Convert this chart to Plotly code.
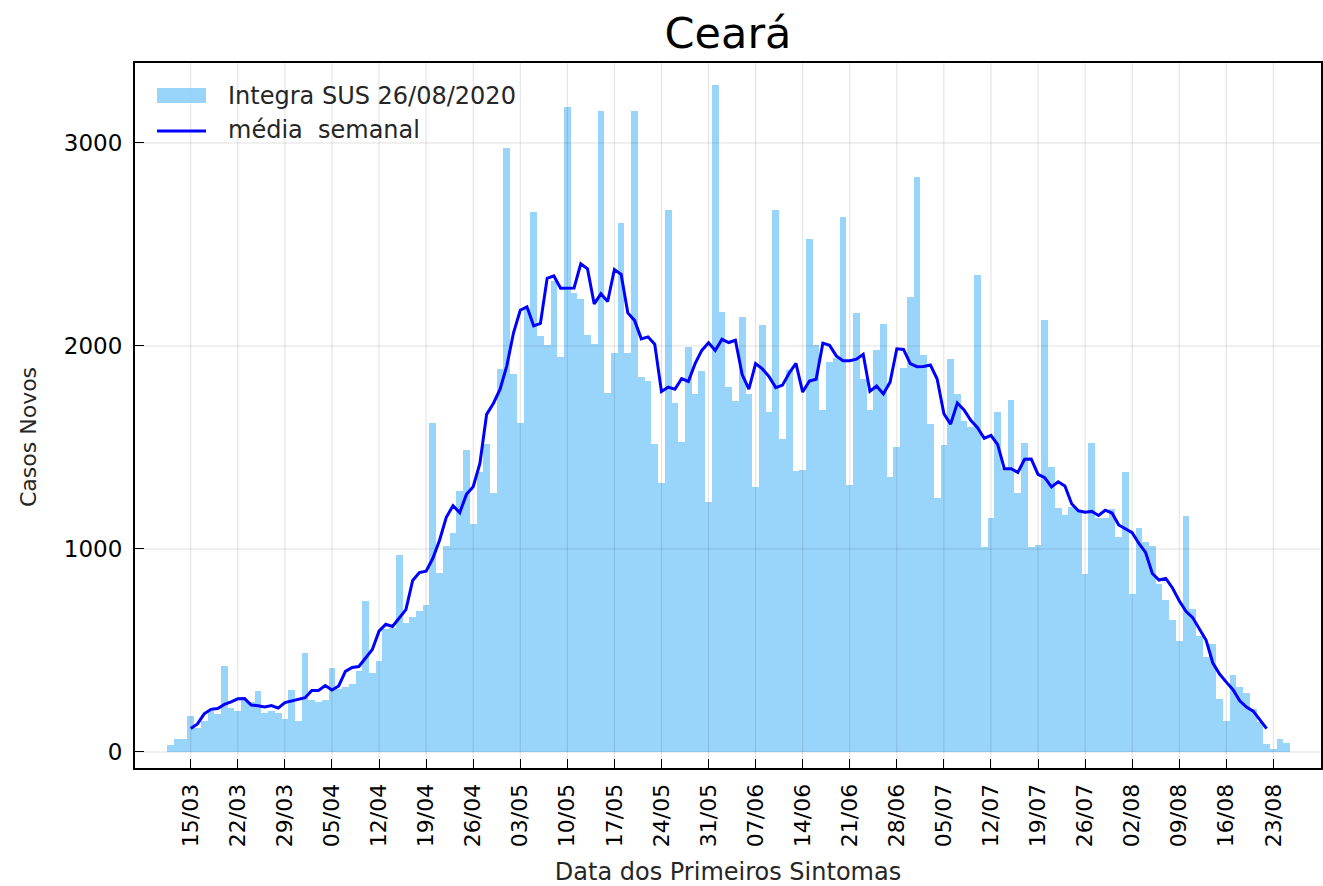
import plotly.graph_objects as go
import pandas as pd

# ---- data ----
inicio_barras = "2020-03-12"
inicio_media = "2020-03-15"

casos = [35, 66, 66, 175, 117, 153, 200, 186, 422, 219,
         200, 260, 245, 299, 193, 203, 194, 163, 307, 155,
         488, 256, 244, 256, 414, 310, 320, 335, 398, 744,
         388, 450, 607, 610, 970, 635, 665, 695, 723, 1619,
         883, 1015, 1081, 1284, 1487, 1124, 1380, 1515, 1275, 1885,
         2974, 1863, 1620, 2180, 2661, 2048, 2004, 2320, 1946, 3175,
         2260, 2232, 2054, 2011, 3160, 1770, 1965, 2605, 1965, 3160,
         1848, 1826, 1516, 1327, 2670, 1718, 1527, 1993, 1761, 1876,
         1230, 3288, 2169, 1798, 1727, 2145, 1761, 1306, 2104, 1677,
         2670, 1544, 1880, 1386, 1390, 2525, 2004, 1683, 1922, 1939,
         2633, 1314, 2163, 1835, 1683, 1980, 2108, 1353, 1501, 1891,
         2241, 2831, 1956, 1618, 1249, 1510, 1935, 1761, 1631, 1599,
         2349, 1011, 1154, 1674, 1397, 1733, 1278, 1521, 1011, 1022,
         2130, 1403, 1202, 1165, 1206, 1190, 876, 1521, 1154, 1154,
         1197, 1061, 1377, 776, 1104, 1033, 1013, 827, 751, 652,
         549, 1160, 706, 569, 467, 533, 261, 153, 380, 322,
         290, 211, 150, 38, 13, 63, 43]

media = [116, 138, 188, 210, 214, 234, 247, 262, 263, 231,
         228, 222, 229, 216, 243, 252, 258, 267, 303, 303,
         327, 305, 325, 397, 416, 421, 463, 505, 595, 629,
         618, 662, 701, 845, 884, 891, 954, 1043, 1156, 1213,
         1179, 1269, 1307, 1421, 1663, 1717, 1787, 1902, 2065, 2176,
         2193, 2099, 2111, 2333, 2345, 2284, 2284, 2285, 2405, 2380,
         2207, 2257, 2219, 2377, 2353, 2163, 2126, 2035, 2045, 2009,
         1776, 1797, 1787, 1839, 1825, 1913, 1978, 2016, 1978, 2033,
         2017, 2028, 1859, 1788, 1913, 1887, 1849, 1795, 1807, 1867,
         1914, 1773, 1827, 1836, 2014, 2003, 1951, 1927, 1927, 1935,
         1959, 1777, 1803, 1764, 1822, 1986, 1983, 1913, 1898, 1899,
         1906, 1837, 1666, 1615, 1719, 1685, 1634, 1597, 1545, 1560,
         1514, 1395, 1395, 1377, 1442, 1443, 1367, 1351, 1306, 1331,
         1310, 1223, 1188, 1181, 1185, 1165, 1191, 1177, 1118, 1100,
         1080, 1027, 983, 879, 847, 855, 808, 745, 693, 662,
         606, 550, 438, 384, 344, 307, 252, 221, 201, 155, 115]

tick_datas = ["2020-03-15", "2020-03-22", "2020-03-29", "2020-04-05", "2020-04-12",
              "2020-04-19", "2020-04-26", "2020-05-03", "2020-05-10", "2020-05-17",
              "2020-05-24", "2020-05-31", "2020-06-07", "2020-06-14", "2020-06-21",
              "2020-06-28", "2020-07-05", "2020-07-12", "2020-07-19", "2020-07-26",
              "2020-08-02", "2020-08-09", "2020-08-16", "2020-08-23"]
tick_rotulos = ["15/03", "22/03", "29/03", "05/04", "12/04", "19/04", "26/04",
                "03/05", "10/05", "17/05", "24/05", "31/05", "07/06", "14/06",
                "21/06", "28/06", "05/07", "12/07", "19/07", "26/07", "02/08",
                "09/08", "16/08", "23/08"]
y_ticks = [0, 1000, 2000, 3000]

nome_barras = "Integra SUS 26/08/2020"
nome_media = "média\u00a0 semanal"
titulo_y = "Casos Novos"

datas = pd.date_range(inicio_barras, periods=len(casos), freq="D")
datas_media = pd.date_range(inicio_media, periods=len(media), freq="D")

FONT = "DejaVu Sans"
COR_BARRA = "rgba(135,206,250,0.85)"
COR_LINHA = "#0000ff"
GRID = "rgba(0,0,0,0.12)"

W, H = 1323, 886
L, R, T, B = 135, 2, 63, 118
PW, PH = W - L - R, H - T - B


def px_x(x):
    return (x - L) / PW


def px_y(y):
    return 1 - (y - T) / PH


fig = go.Figure()
fig.add_trace(go.Bar(
    x=datas, y=casos, width=86400000,
    marker=dict(color=COR_BARRA, line=dict(width=0)),
    name=nome_barras, showlegend=False))
fig.add_trace(go.Scatter(
    x=datas_media, y=media, mode="lines",
    line=dict(color=COR_LINHA, width=3),
    name=nome_media, showlegend=False))

# grid lines drawn above the bars (as in the reference)
shapes = []
for d in tick_datas:
    shapes.append(dict(type="line", xref="x", yref="paper", x0=d, x1=d, y0=0, y1=1,
                       line=dict(color=GRID, width=1), layer="above"))
for v in y_ticks:
    shapes.append(dict(type="line", xref="paper", yref="y", x0=0, x1=1, y0=v, y1=v,
                       line=dict(color=GRID, width=1), layer="above"))

# legend (patch + line + labels), placed in the upper-left corner
shapes.append(dict(type="rect", xref="paper", yref="paper",
                   x0=px_x(157), x1=px_x(206), y0=px_y(103), y1=px_y(88),
                   fillcolor=COR_BARRA, line=dict(width=0), layer="above"))
shapes.append(dict(type="line", xref="paper", yref="paper",
                   x0=px_x(157), x1=px_x(206), y0=px_y(131), y1=px_y(131),
                   line=dict(color=COR_LINHA, width=3), layer="above"))
annotations = [
    dict(text=nome_barras, xref="paper", yref="paper", x=px_x(226), y=px_y(96),
         xanchor="left", yanchor="middle", showarrow=False,
         font=dict(family=FONT, size=24, color="#262626")),
    dict(text=nome_media, xref="paper", yref="paper", x=px_x(226), y=px_y(130),
         xanchor="left", yanchor="middle", showarrow=False,
         font=dict(family=FONT, size=24, color="#262626")),
    # y-axis title
    dict(text=titulo_y, xref="paper", yref="paper", x=px_x(28), y=px_y(437),
         xanchor="center", yanchor="middle", showarrow=False, textangle=-90,
         font=dict(family=FONT, size=22, color="#262626")),
]

fig.update_layout(
    width=W, height=H,
    margin=dict(l=L, r=R, t=T, b=B),
    paper_bgcolor="white", plot_bgcolor="white",
    font=dict(family=FONT, color="black"),
    title=dict(text="Ceará", x=0.5, xref="paper", xanchor="center",
               y=1 - 33 / H, yref="container", yanchor="middle",
               font=dict(family=FONT, size=43, color="black")),
    bargap=0,
    shapes=shapes,
    annotations=annotations,
    showlegend=False,
    xaxis=dict(
        type="date",
        range=["2020-03-06 17:00", "2020-08-30 02:00"],
        tickmode="array", tickvals=tick_datas, ticktext=tick_rotulos,
        tickangle=-90, ticks="inside", ticklen=9, tickwidth=1.2, tickcolor="black",
        showline=True, linewidth=2, linecolor="black", mirror=True,
        showgrid=False, zeroline=False,
        tickfont=dict(family=FONT, size=22, color="black"),
        ticklabelstandoff=5,
        title=dict(text="Data dos Primeiros Sintomas", standoff=18,
                   font=dict(family=FONT, size=24, color="#262626")),
        automargin=False,
    ),
    yaxis=dict(
        range=[-79, 3394],
        tickmode="array", tickvals=y_ticks,
        ticks="inside", ticklen=9, tickwidth=1.2, tickcolor="black",
        showline=True, linewidth=2, linecolor="black", mirror=True,
        showgrid=False, zeroline=False,
        tickfont=dict(family=FONT, size=23, color="black"),
        ticklabelstandoff=6,
        automargin=False,
    ),
)

fig.write_html("out.html", config={"displayModeBar": False},
               post_script="document.body.style.margin='0';document.body.style.overflow='hidden';")
